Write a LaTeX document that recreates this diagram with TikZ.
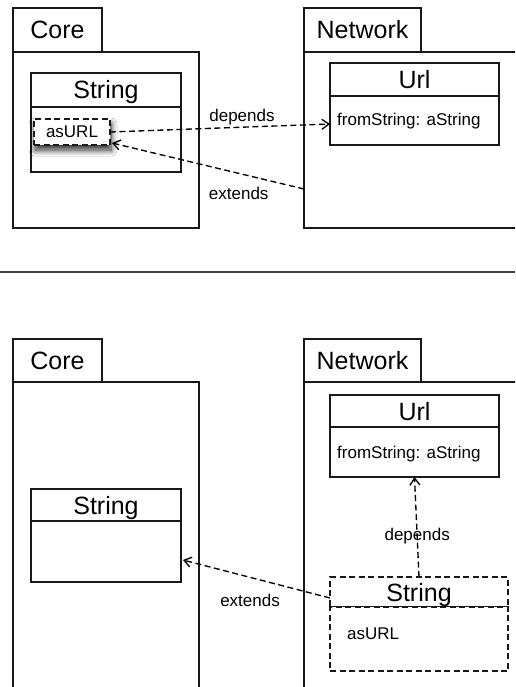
\documentclass[tikz,border=0pt]{standalone}
\usepackage{fontspec}
\setmainfont{Liberation Sans}
\usetikzlibrary{arrows.meta,calc,shadows.blur}

\tikzset{
  uml/.style={draw=black!90, line width=1.2pt, fill=white, inner sep=0pt, outer sep=0pt, anchor=north west},
  bigtext/.style={font=\fontsize{25}{30}\selectfont, text height=18pt, text depth=0pt},
  smalltext/.style={font=\fontsize{17}{20}\selectfont},
  pkgtab/.style={uml, bigtext},
  pkgbody/.style={uml},
  clshead/.style={uml, bigtext},
  clsbody/.style={uml},
  dashedbox/.style={dash pattern=on 6pt off 3.5pt},
  member/.style={smalltext, inner sep=0pt, anchor=base west},
  dep/.style={draw=black, line width=1.35pt, dash pattern=on 6pt off 3.5pt,
    -{Straight Barb[length=7pt,width=10pt]}},
  lbl/.style={smalltext, inner sep=1pt},
}

\begin{document}
\begin{tikzpicture}[x=1pt,y=-1pt]
\useasboundingbox (0,0) rectangle (515,687);
\clip (0,0) rectangle (515,687);

% ---------- upper diagram ----------
% package Core
\node[pkgbody, minimum width=186pt, minimum height=176pt] (coreA) at (13,52) {};
\node[pkgtab, minimum width=89pt, minimum height=44pt] (coreTabA) at (13,8) {Core};
% class String with its method
\node[clshead, minimum width=150pt, minimum height=34pt] (strHeadA) at (31,73) {String};
\node[clsbody, minimum width=150pt, minimum height=65pt] (strBodyA) at (31,107) {};
\node[uml, dashedbox, smalltext, minimum width=76pt, minimum height=26pt,
  blur shadow={shadow xshift=1pt, shadow yshift=-5pt, shadow blur radius=6pt,
    shadow blur steps=12, shadow opacity=85}]
  (asURLA) at (34,119) {asURL};

% package Network
\node[pkgbody, minimum width=240pt, minimum height=176pt] (netA) at (304,52) {};
\node[pkgtab, minimum width=117pt, minimum height=44pt] (netTabA) at (304,8) {Network};
% class Url
\node[clshead, minimum width=169pt, minimum height=33pt] (urlHeadA) at (330,63) {Url};
\node[clsbody, minimum width=169pt, minimum height=49pt] (urlBodyA) at (330,96) {};
\node[member] (fromA) at (337,126) {fromString: aString};

% relations
\draw[dep] (asURLA.east) -- ($(urlBodyA.west)+(0,3.5)$)
  node[lbl, pos=0.6, above] (depA) {depends};
\coordinate (extAstart) at ($(netA.north west)+(0,137)$);
\draw[dep] (extAstart) -- ($(asURLA.south east)+(2,-2)$)
  node[lbl, pos=0.34, below=12pt] (extA) {extends};

% ---------- separator ----------
\coordinate (sepL) at (0,272);
\coordinate (sepR) at (515,272);
\draw[black!75, line width=1.5pt] (sepL) -- (sepR);

% ---------- lower diagram ----------
% package Core
\node[pkgbody, minimum width=186pt, minimum height=320pt] (coreB) at (13,382) {};
\node[pkgtab, minimum width=89pt, minimum height=43pt] (coreTabB) at (13,339) {Core};
\node[clshead, minimum width=150pt, minimum height=32pt] (strHeadB) at (31,489) {String};
\node[clsbody, minimum width=150pt, minimum height=61pt] (strBodyB) at (31,521) {};

% package Network
\node[pkgbody, minimum width=240pt, minimum height=320pt] (netB) at (304,382) {};
\node[pkgtab, minimum width=117pt, minimum height=43pt] (netTabB) at (304,339) {Network};
\node[clshead, minimum width=169pt, minimum height=32pt] (urlHeadB) at (330,395) {Url};
\node[clsbody, minimum width=169pt, minimum height=50pt] (urlBodyB) at (330,427) {};
\node[member] (fromB) at (337,458) {fromString: aString};

% extension of String inside Network
\node[clshead, dashedbox, minimum width=178pt, minimum height=30pt] (strHeadC) at (330,577) {String};
\node[clsbody, dashedbox, minimum width=178pt, minimum height=64pt] (strBodyC) at (330,607) {};
\node[member] (asURLC) at (347,639) {asURL};

% relations
\draw[dep] (strHeadC.north) -- (urlBodyB.south)
  node[lbl, pos=0.41, inner sep=0pt] (depB) {depends};
\draw[dep] ($(strHeadC.west)+(0,6)$) -- ($(strBodyB.east)+(2,8.5)$)
  node[lbl, pos=0.544, below=15.5pt] (extB) {extends};
\end{tikzpicture}
\end{document}
